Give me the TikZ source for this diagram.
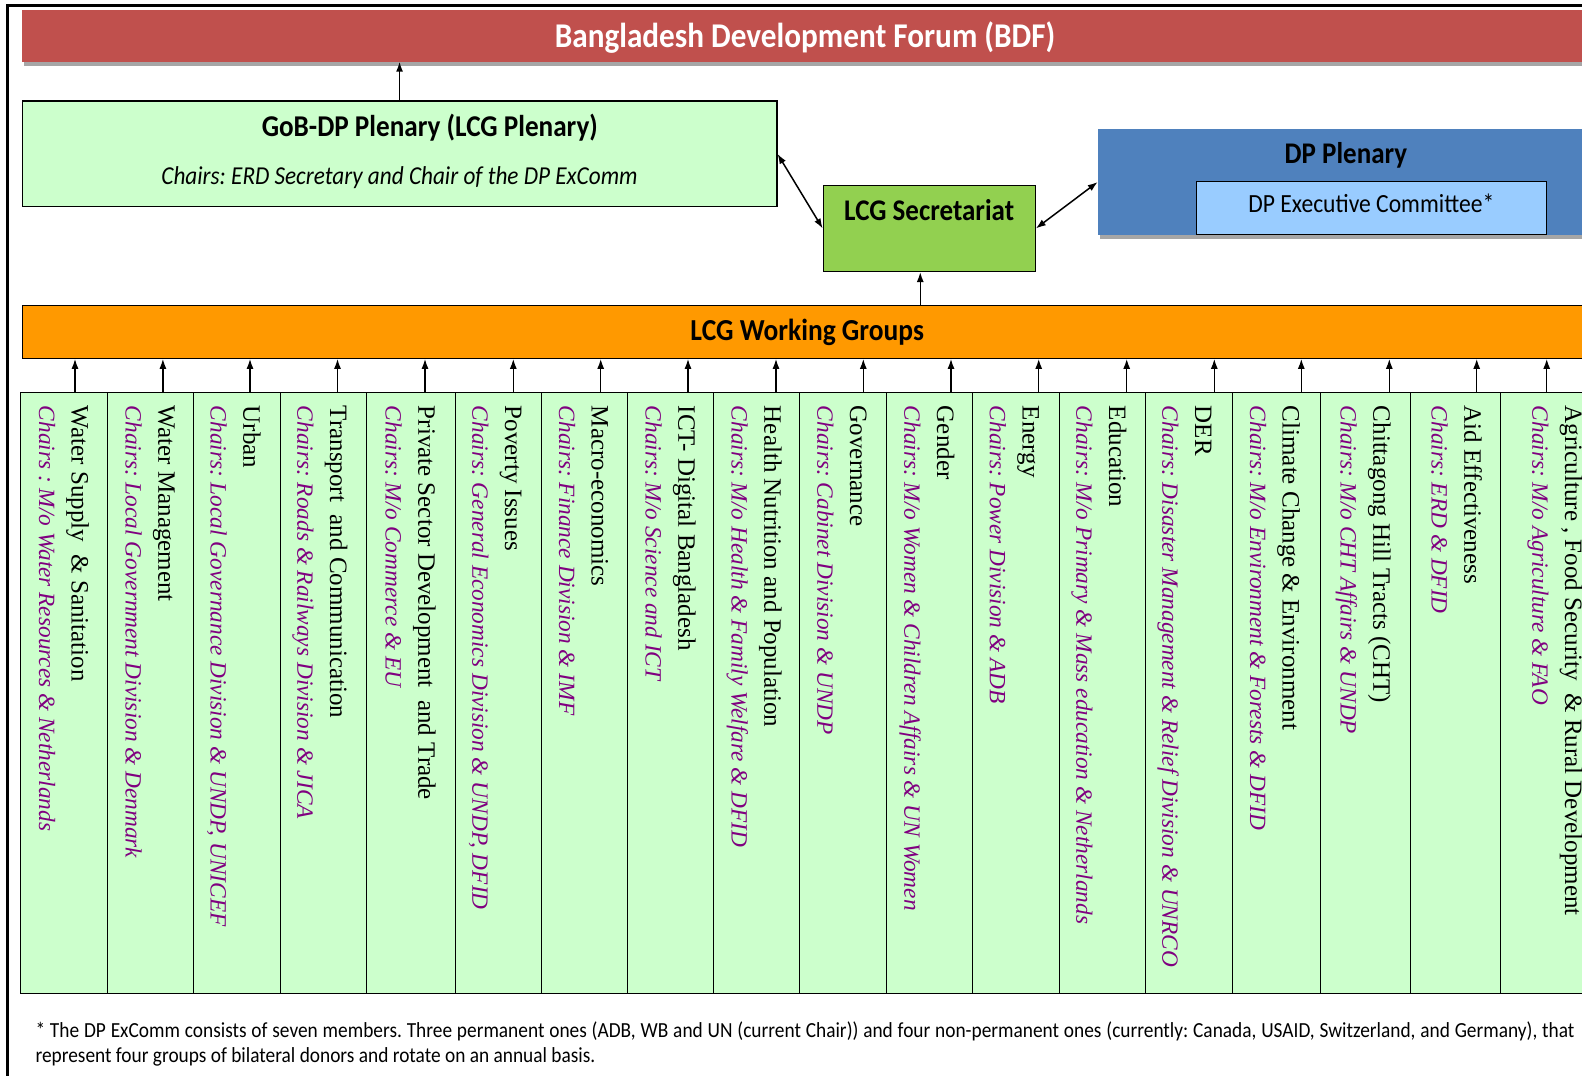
\documentclass[tikz,border=0pt]{standalone}
\usepackage{fontspec}
\setmainfont{Liberation Serif}
\newfontfamily\calibri{Carlito}
\usetikzlibrary{arrows.meta,shadows}
\frenchspacing

\definecolor{bdfred}{HTML}{C0504D}
\definecolor{plengreen}{HTML}{CCFFCC}
\definecolor{secgreen}{HTML}{92D050}
\definecolor{dpblue}{HTML}{4F81BD}
\definecolor{excblue}{HTML}{99CCFF}
\definecolor{wgorange}{HTML}{FF9900}
\definecolor{chairpurple}{HTML}{800080}

% the Calibri headings are set a little narrow
\newcommand{\tight}[1]{\scalebox{0.9}[1]{#1}}

\tikzset{
  bar/.style={inner sep=0pt, drop shadow={shadow xshift=2pt, shadow yshift=-4pt, fill=black!35, opacity=1}},
  box/.style={draw=black, line width=1.2pt, inner sep=0pt},
  head/.style={font=\calibri\bfseries\fontsize{#1}{#1}\selectfont},
  link/.style={line width=1.5pt, -{Latex[length=10pt,width=7pt]}},
  both/.style={line width=1.5pt, {Latex[length=10pt,width=7pt]}-{Latex[length=10pt,width=7pt]}},
  wgcol/.style={box, fill=plengreen, line width=1pt},
  wgtitle/.style={rotate=-90, anchor=base west, inner sep=0pt, font=\fontsize{25}{30}\selectfont},
  wgchair/.style={wgtitle, font=\itshape\fontsize{23.3}{28}\selectfont, text=chairpurple}
}

\begin{document}
\begin{tikzpicture}[x=1pt, y=-1pt]
  \useasboundingbox (0,0) rectangle (1582,1076);
  \clip (0,0) rectangle (1582,1076);

  % frame, cut off on the right
  \draw[line width=3pt] (7,1080) -- (7,5) -- (1600,5);

  % forum on top
  \node[bar, fill=bdfred, minimum width=1566, minimum height=51.5] (bdf) at (805.1,35.75) {};
  \node[head=34.7, text=white] (bdfname) at (805.1,37.3) {\tight{Bangladesh Development Forum (BDF)}};

  % plenary
  \node[box, fill=plengreen, minimum width=754.7, minimum height=105.9] (gob) at (399.55,153.85) {};
  \node[head=30.2] (gobname) at (429.8,128) {\tight{GoB-DP Plenary (LCG Plenary)}};
  \node[font=\calibri\itshape\fontsize{25.8}{30}\selectfont] (gobchair) at (399.5,177.6)
    {\tight{Chairs: ERD Secretary and Chair of the DP ExComm}};

  % secretariat
  \node[box, fill=secgreen, minimum width=211.9, minimum height=85.8] (sec) at (929.25,228.5) {};
  \node[head=30] (secname) at (929.2,210.4) {\tight{LCG Secretariat}};

  % DP side
  \node[bar, fill=dpblue, minimum width=496, minimum height=105.9] (dp) at (1345.9,182) {};
  \node[head=30] (dpname) at (1345.9,155.4) {\tight{DP Plenary}};
  \node[box, fill=excblue, minimum width=350.1, minimum height=52.5] (dpx) at (1371.65,207.85) {};
  \node[font=\calibri\fontsize{26.2}{30}\selectfont] (dpxname) at (1371.3,203.3) {\tight{DP Executive Committee*}};

  % working groups bar
  \node[box, fill=wgorange, minimum width=1569.6, minimum height=52.5] (wg) at (807,331.95) {};
  \node[head=30.5] (wgname) at (807.2,332.5) {\tight{LCG Working Groups}};

  \draw[link] (gob.north) -- (gob.north |- bdf.south);
  \draw[both] (gob.east) -- (sec.west);
  \draw[both] (sec.east) -- (dp.west);
  \coordinate (secin) at ([xshift=-9pt]sec.south);
  \draw[link] (secin |- wg.north) -- (secin);

  % the 18 groups: left/right edge, arrow, baseline of the name
  \foreach \i/\l/\r/\ax/\tb/\nm/\ch in {
    1/20.4/107/75/71.7/{Water Supply~ \& Sanitation}/{Chairs : M/o Water Resources \& Netherlands},
    2/107/193/162.9/158.3/{Water Management}/{Chairs: Local Government Division \& Denmark},
    3/193/280/250/243.3/{Urban}/{Chairs: Local Governance Division \& UNDP, UNICEF},
    4/280/366/337.5/330/{Transport~ and Communication}/{Chairs: Roads \& Railways Division \& JICA},
    5/366/455/425/418.3/{Private Sector Development~ and Trade}/{Chairs: M/o Commerce \& EU},
    6/455/541/513.3/505/{Poverty Issues}/{Chairs: General Economics Division \& UNDP, DFID},
    7/541/627/600.7/591.7/{Macro-economics}/{Chairs: Finance Division \& IMF},
    8/627/713/688/678.3/{ICT- Digital Bangladesh}/{Chairs: M/o Science and ICT},
    9/713/799.4/776/764.3/{Health Nutrition and Population}/{Chairs: M/o Health \& Family Welfare \& DFID},
    10/799.4/886/863.3/850/{Governance}/{Chairs: Cabinet Division \& UNDP},
    11/886/972/951/937/{Gender}/{Chairs: M/o Women \& Children Affairs \& UN Women},
    12/972/1059/1038.7/1022.5/{Energy}/{Chairs: Power Division \& ADB},
    13/1059/1145/1126.7/1109/{Education}/{Chairs: M/o Primary \& Mass education \& Netherlands},
    14/1145/1232/1214.3/1195/{DER}/{Chairs: Disaster Management \& Relief Division \& UNRCO},
    15/1232/1320/1301.3/1282.7/{Climate Change \& Environment}/{Chairs: M/o Environment \& Forests \& DFID},
    16/1320/1410/1389.3/1373.3/{Chittagong Hill Tracts (CHT)}/{Chairs: M/o CHT Affairs \& UNDP},
    17/1410/1500/1476.7/1464.3/{Aid Effectiveness}/{Chairs: ERD \& DFID},
    18/1500/1600/1546.7/1565/{Agriculture , Food Security~ \& Rural Development}/{Chairs: M/o Agriculture \& FAO}}{
    \node[wgcol, minimum width={\r-\l}, minimum height=601.5] (col\i) at ({(\l+\r)/2},693.05) {};
    \coordinate (a\i) at (\ax,392.3);
    \draw[link] (a\i) -- (a\i |- wg.south);
    \node[wgtitle] (t\i) at (\tb,405.7) {\nm};
    \node[wgchair] (c\i) at (\tb-32.7,405.7) {\ch};
  }

  % footnote
  \node[anchor=north west, inner sep=0pt, align=left, font=\calibri\fontsize{21.5}{25}\selectfont]
    (note) at (35.3,1022) {\tight{\makebox[1710pt][s]{* The DP ExComm consists of seven members. Three permanent ones (ADB, WB and UN (current Chair)) and four non-permanent ones (currently: Canada, USAID, Switzerland, and Germany), that}}\\\tight{represent four groups of bilateral donors and rotate on an annual basis.}};
\end{tikzpicture}
\end{document}
